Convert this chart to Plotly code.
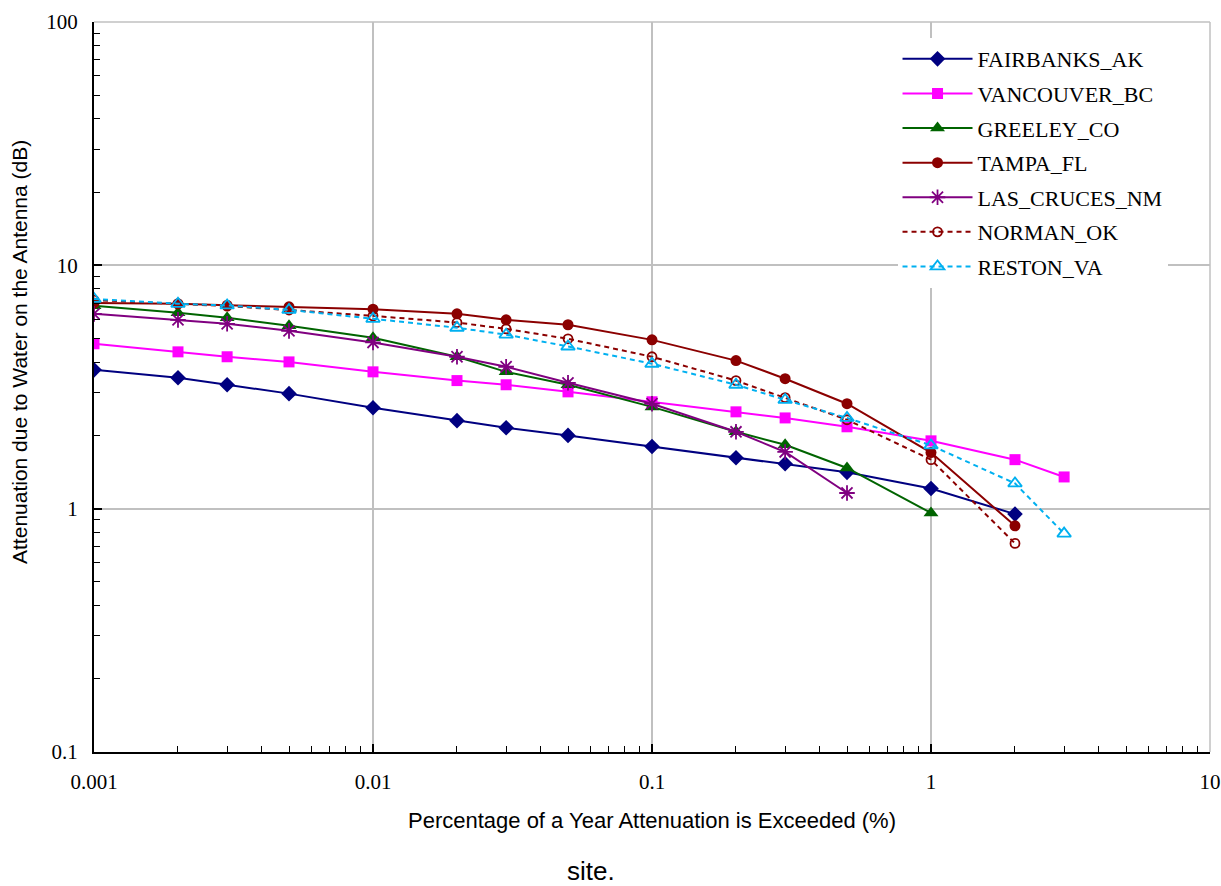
import plotly.graph_objects as go

x_pct = [0.001, 0.002, 0.003, 0.005, 0.01, 0.02, 0.03, 0.05, 0.1, 0.2, 0.3, 0.5, 1, 2, 3]

fairbanks = [3.72, 3.45, 3.23, 2.97, 2.60, 2.30, 2.15, 2.00, 1.80, 1.62, 1.53, 1.41, 1.21, 0.95]
vancouver = [4.76, 4.41, 4.21, 4.01, 3.65, 3.36, 3.23, 3.02, 2.75, 2.50, 2.36, 2.17, 1.90, 1.59, 1.35]
greeley = [6.82, 6.38, 6.09, 5.64, 5.04, 4.21, 3.65, 3.23, 2.62, 2.07, 1.83, 1.47, 0.96]
tampa = [7.00, 6.95, 6.85, 6.75, 6.60, 6.32, 5.97, 5.70, 4.94, 4.06, 3.42, 2.70, 1.70, 0.85]
las_cruces = [6.32, 5.97, 5.75, 5.38, 4.82, 4.21, 3.83, 3.29, 2.70, 2.07, 1.71, 1.16]
norman = [7.20, 6.95, 6.80, 6.55, 6.20, 5.82, 5.48, 4.99, 4.21, 3.36, 2.86, 2.32, 1.59, 0.72]
reston = [7.28, 6.95, 6.84, 6.56, 6.03, 5.54, 5.19, 4.64, 3.94, 3.23, 2.80, 2.36, 1.82, 1.27, 0.79]

x_major = [0.001, 0.01, 0.1, 1, 10]
x_major_text = ["0.001", "0.01", "0.1", "1", "10"]
y_major = [0.1, 1, 10, 100]
y_major_text = ["0.1", "1", "10", "100"]
minor_mult = [2, 3, 4, 5, 6, 7, 8, 9]
x_minor = [d * m for d in [0.001, 0.01, 0.1, 1] for m in minor_mult]
y_minor = [d * m for d in [0.1, 1, 10] for m in minor_mult]

series = [
    ("FAIRBANKS_AK", fairbanks, "#000080", "solid", "diamond", 12),
    ("VANCOUVER_BC", vancouver, "#FF00FF", "solid", "square", 11),
    ("GREELEY_CO", greeley, "#006400", "solid", "triangle-up", 13),
    ("TAMPA_FL", tampa, "#8B0000", "solid", "circle", 11),
    ("LAS_CRUCES_NM", las_cruces, "#800080", "solid", "asterisk-open", 13),
    ("NORMAN_OK", norman, "#8B0000", "5px,4px", "circle-open", 9),
    ("RESTON_VA", reston, "#00B0F0", "5px,4px", "triangle-up-open", 12),
]

fig = go.Figure()
for i, (name, ys, color, dash, sym, size) in enumerate(series):
    fig.add_trace(go.Scatter(
        x=x_pct[:len(ys)], y=ys, name=name, mode="lines+markers",
        legendgroup=f"g{i}",
        line=dict(color=color, width=2, dash=dash),
        marker=dict(symbol=sym, size=size, color=color,
                    line=dict(color=color, width=1.8 if "open" in sym else 0)),
    ))

serif = "Liberation Serif, Times New Roman, serif"
sans = "Liberation Sans, Arial, sans-serif"

fig.update_layout(
    width=1221, height=886,
    margin=dict(l=94, r=11, t=22, b=134, autoexpand=False),
    plot_bgcolor="white", paper_bgcolor="white",
    showlegend=True,
    legend=dict(
        x=0.72, y=0.978, xanchor="left", yanchor="top",
        bgcolor="white", borderwidth=0,
        font=dict(family=serif, size=22, color="black"),
        tracegroupgap=3, itemwidth=70,
    ),
    xaxis=dict(
        type="log", range=[-3, 1], automargin=False,
        tickvals=x_major, ticktext=x_major_text,
        ticks="inside", ticklen=8, tickwidth=1.5, tickcolor="black",
        showline=True, linecolor="black", linewidth=2,
        showgrid=True, gridcolor="#c0c0c0", gridwidth=1.5,
        minor=dict(tickvals=x_minor, ticks="inside", ticklen=6, tickwidth=1.2,
                   tickcolor="black", showgrid=False),
        tickfont=dict(family=serif, size=21, color="black"),
        ticklabelstandoff=10,
        title=dict(text="Percentage of a Year Attenuation is Exceeded (%)",
                   font=dict(family=sans, size=22, color="black"), standoff=19),
        zeroline=False,
    ),
    yaxis=dict(
        type="log", range=[-1, 2], automargin=False,
        tickvals=y_major, ticktext=y_major_text,
        ticks="inside", ticklen=8, tickwidth=1.5, tickcolor="black",
        showline=True, linecolor="black", linewidth=2,
        showgrid=True, gridcolor="#c0c0c0", gridwidth=1.5,
        minor=dict(tickvals=y_minor, ticks="inside", ticklen=6, tickwidth=1.2,
                   tickcolor="black", showgrid=False),
        tickfont=dict(family=serif, size=21, color="black"),
        ticklabelstandoff=10,
        zeroline=False,
    ),
    shapes=[
        dict(type="line", xref="x domain", yref="y domain", x0=0, x1=1, y0=1, y1=1,
             line=dict(color="#c0c0c0", width=1.5), layer="below"),
        dict(type="line", xref="x domain", yref="y domain", x0=1, x1=1, y0=0, y1=1,
             line=dict(color="#c0c0c0", width=1.5), layer="below"),
    ],
    annotations=[
        dict(text="Attenuation due to Water on the Antenna (dB)", textangle=-90,
             x=-0.0663, y=0.548, xref="paper", yref="paper",
             showarrow=False, xanchor="center", yanchor="middle",
             font=dict(family=sans, size=21, color="black")),
        dict(text="site.", x=(591 - 94) / 1116, y=(752 - 871) / 730, xref="paper", yref="paper",
             showarrow=False, xanchor="center", yanchor="middle",
             font=dict(family=sans, size=26, color="black")),
    ],
)

fig.write_html("out.html")
